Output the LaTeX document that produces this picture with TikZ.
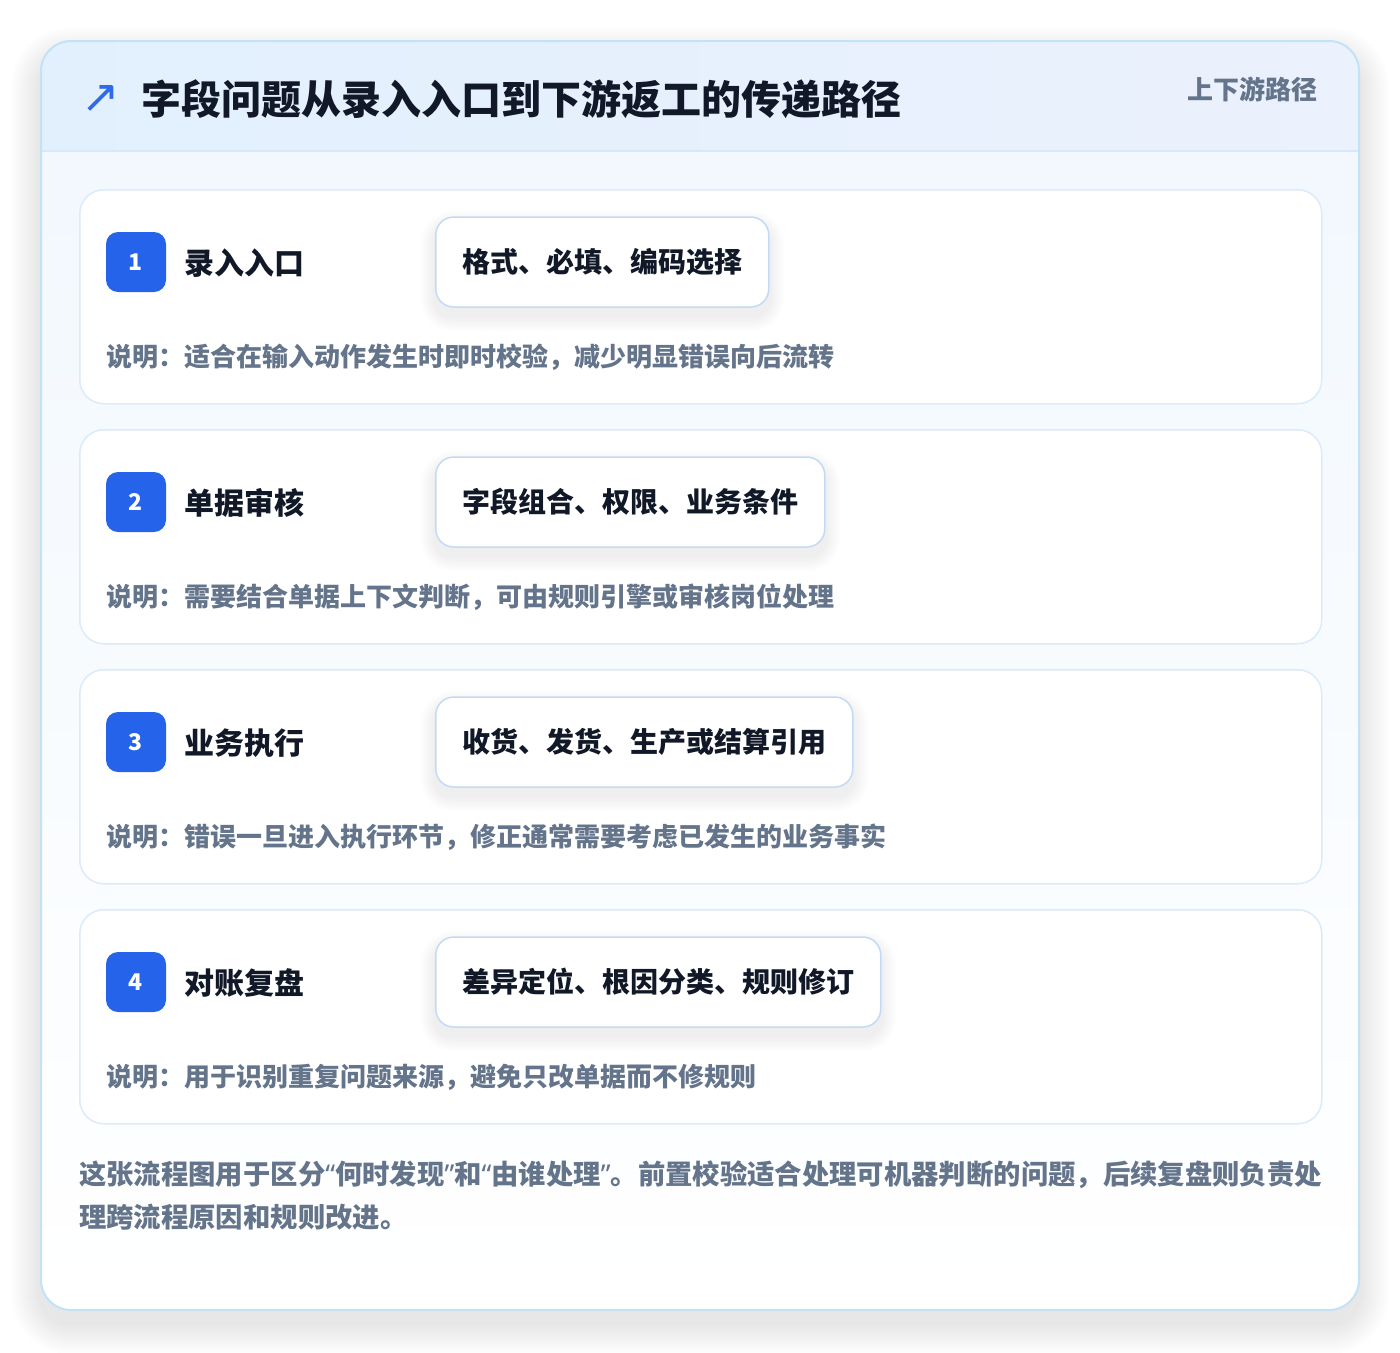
\documentclass[tikz,border=0pt]{standalone}
\usepackage{fontspec}
\setmainfont{Noto Sans CJK SC}
\newfontfamily\symfont{DejaVu Sans}
\newfontfamily\latinfont{Noto Sans}
\definecolor{outerline}{HTML}{C2E3F7}
\definecolor{headleft}{HTML}{E2F0FD}
\definecolor{headright}{HTML}{EBF1FD}
\definecolor{headrule}{HTML}{D6E8FA}
\definecolor{bodytop}{HTML}{F2F8FE}
\definecolor{cardline}{HTML}{DCEBFA}
\definecolor{pillline}{HTML}{C3DAF6}
\definecolor{badgeblue}{HTML}{2563EB}
\definecolor{arrowblue}{HTML}{2F6BE8}
\definecolor{ink}{HTML}{111827}
\definecolor{muted}{HTML}{64748B}
\pgfdeclarelayer{cardlayer}
\pgfdeclarelayer{shadowlayer}
\pgfsetlayers{cardlayer,shadowlayer,main}
\newcommand{\myLq}{{\latinfont\bfseries “}}
\newcommand{\myRq}{{\latinfont\bfseries ”}}
\tikzset{
  stepcard/.style={draw=cardline, line width=1.5pt, fill=white, rounded corners=24pt,
    minimum width=1242pt, minimum height=214pt, anchor=north west, inner sep=0pt},
  badge/.style={fill=badgeblue, rounded corners=12pt, minimum width=60pt, minimum height=60pt,
    text=white, font=\fontsize{23}{23}\selectfont\bfseries, inner sep=0pt},
  steptitle/.style={anchor=west, font=\fontsize{30}{30}\selectfont\bfseries, text=ink, inner sep=0pt},
  pill/.style={anchor=west, draw=pillline, line width=1.5pt, fill=white, rounded corners=18pt,
    minimum height=90pt, inner xsep=26.5pt, font=\fontsize{28}{28}\selectfont\bfseries, text=ink},
  desc/.style={anchor=west, font=\fontsize{26}{26}\selectfont\bfseries, text=muted, inner sep=0pt},
  foot/.style={anchor=west, font=\fontsize{27.35}{27.35}\selectfont\bfseries, text=muted, inner sep=0pt},
  shadowbit/.style={fill=black, opacity=#1},
}
\begin{document}
\begin{tikzpicture}[x=1pt,y=-1pt]
\useasboundingbox (0,0) rectangle (1400,1352);
\begin{pgfonlayer}{cardlayer}
\fill[white] (0,0) rectangle (1400,1352);
% outer card shadow
\foreach \k in {1,...,12}{
  \pgfmathsetmacro{\e}{2.5*\k}
  \fill[shadowbit=0.008, rounded corners=30+\e] (41-\e,41-\e+16) rectangle (1359+\e,1310+\e+14);
}
% outer card
\node[fill=white, rounded corners=30pt, inner sep=0pt, minimum width=1318pt, minimum height=1269pt, anchor=north west] (card) at (41,41) {};
\begin{scope}
  \clip[rounded corners=30pt] (41,41) rectangle (1359,1310);
  \shade[left color=headleft, right color=headright] (41,41) rectangle (1359,151);
  \shade[top color=bodytop, bottom color=white] (41,151) rectangle (1359,1310);
  \draw[headrule, line width=1.5pt] (41,151) -- (1359,151);
\end{scope}
\draw[outerline, line width=2pt, rounded corners=30pt] (41,41) rectangle (1359,1310);
\end{pgfonlayer}
% header
\node[anchor=center, inner sep=0pt, text=arrowblue, font=\symfont\fontsize{46}{46}\selectfont] (arrow) at (101,99) {↗};
\node[anchor=west, inner sep=0pt, text=ink, font=\fontsize{40}{40}\selectfont\bfseries] (title) at (141,99) {字段问题从录入入口到下游返工的传递路径};
\node[anchor=east, inner sep=0pt, text=muted, font=\fontsize{26}{26}\selectfont\bfseries] (tag) at (1318,89) {上下游路径};
% steps
\foreach \i/\t/\p/\d in {
  1/录入入口/格式、必填、编码选择/说明：适合在输入动作发生时即时校验，减少明显错误向后流转,
  2/单据审核/字段组合、权限、业务条件/说明：需要结合单据上下文判断，可由规则引擎或审核岗位处理,
  3/业务执行/收货、发货、生产或结算引用/说明：错误一旦进入执行环节，修正通常需要考虑已发生的业务事实,
  4/对账复盘/差异定位、根因分类、规则修订/说明：用于识别重复问题来源，避免只改单据而不修规则}{
  \pgfmathsetmacro{\dy}{240*(\i-1)}
  \begin{pgfonlayer}{cardlayer}
    \node[stepcard] (card\i) at (79,189+\dy) {};
  \end{pgfonlayer}
  \node[badge] (badge\i) at (136,262+\dy) {\i};
  \node[steptitle] (stitle\i) at (184,263+\dy) {\t};
  \node[pill] (pill\i) at (435,262+\dy) {\p};
  \node[desc] (desc\i) at (106,357+\dy) {\d};
  \begin{pgfonlayer}{shadowlayer}
    \foreach \k in {1,...,8}{
      \pgfmathsetmacro{\e}{1.8*\k}
      \pgfmathsetmacro{\up}{\e-9}
      \pgfmathsetmacro{\dn}{-\e-9}
      \fill[shadowbit=0.007, rounded corners=18+\e]
        ([xshift=-\e pt, yshift=\up pt]pill\i.north west) rectangle ([xshift=\e pt, yshift=\dn pt]pill\i.south east);
    }
  \end{pgfonlayer}
}
% footer
\node[foot] (foot1) at (79,1175) {这张流程图用于区分\myLq 何时发现\myRq 和\myLq 由谁处理\myRq 。前置校验适合处理可机器判断的问题，后续复盘则负责处};
\node[foot] (foot2) at (79,1217) {理跨流程原因和规则改进。};
\end{tikzpicture}
\end{document}
